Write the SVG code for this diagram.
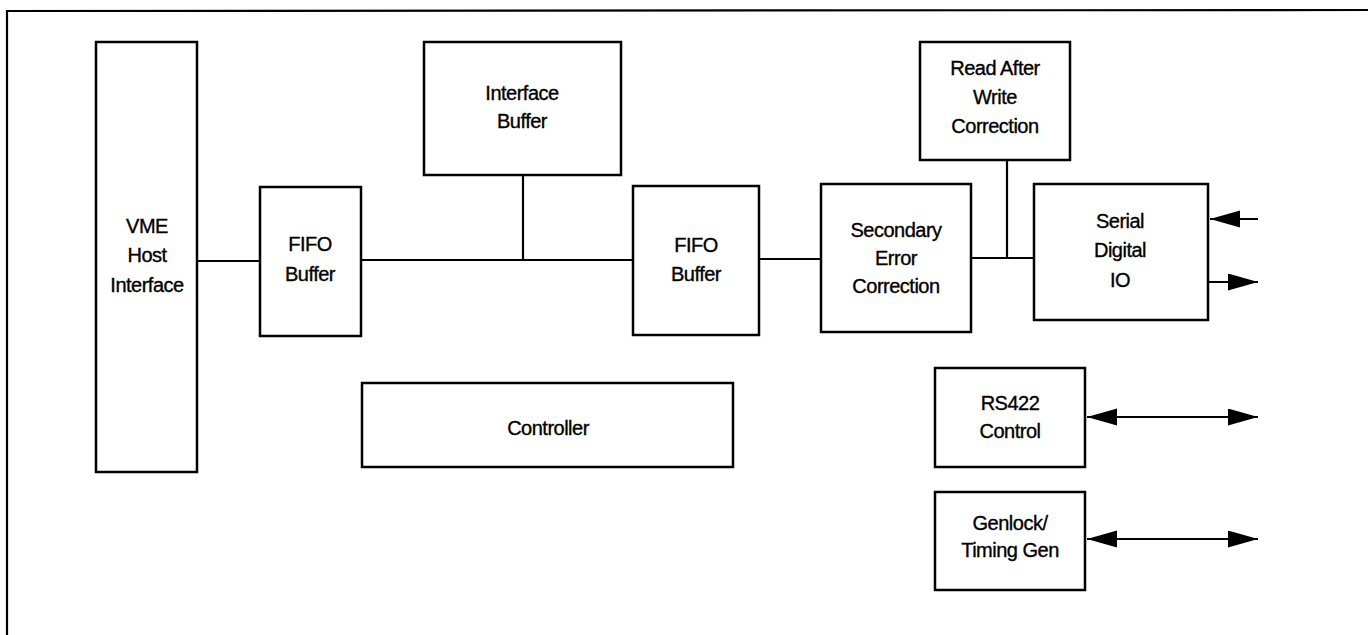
<svg xmlns="http://www.w3.org/2000/svg" width="1368" height="635" viewBox="0 0 1368 635">
<style>
.box{fill:#fff;stroke:#000;stroke-width:2.5}
.ln{fill:none;stroke:#000;stroke-width:2.2}
text{font-family:"Liberation Sans",Arial,sans-serif;font-size:20px;fill:#000;stroke:#000;stroke-width:0.35;text-anchor:middle;letter-spacing:-0.5px}
</style>
<defs>
<marker id="ah" markerUnits="userSpaceOnUse" markerWidth="32" markerHeight="18" refX="30" refY="8.5" orient="auto-start-reverse">
<path d="M0,0 L30,8.5 L0,17 z" fill="#000"/>
</marker>
</defs>
<rect x="0" y="0" width="1368" height="635" fill="#fff"/>
<path class="ln" d="M7,635 L7,11 L1368,10"/>
<g id="connectors">
<line class="ln" x1="197" y1="261" x2="260" y2="261"/>
<line class="ln" x1="361" y1="260" x2="633" y2="260"/>
<line class="ln" x1="523" y1="175" x2="523" y2="260"/>
<line class="ln" x1="759" y1="259" x2="821" y2="259"/>
<line class="ln" x1="971" y1="258" x2="1034" y2="258"/>
<line class="ln" x1="1007" y1="160" x2="1007" y2="258"/>
<line class="ln" x1="1258" y1="219" x2="1210" y2="219" marker-end="url(#ah)"/>
<line class="ln" x1="1208" y1="282" x2="1258" y2="282" marker-end="url(#ah)"/>
<line class="ln" x1="1087" y1="417" x2="1258" y2="417" marker-start="url(#ah)" marker-end="url(#ah)"/>
<line class="ln" x1="1087" y1="539" x2="1258" y2="539" marker-start="url(#ah)" marker-end="url(#ah)"/>
</g>
<g id="vme">
<rect class="box" x="96" y="42" width="101" height="430"/>
<text x="147" y="233">VME</text>
<text x="147" y="262">Host</text>
<text x="147" y="292">Interface</text>
</g>
<g id="fifo1">
<rect class="box" x="260" y="187" width="101" height="149"/>
<text x="310" y="251">FIFO</text>
<text x="310" y="281">Buffer</text>
</g>
<g id="ifbuf">
<rect class="box" x="424" y="42" width="197" height="133"/>
<text x="522" y="100">Interface</text>
<text x="522" y="128">Buffer</text>
</g>
<g id="fifo2">
<rect class="box" x="633" y="186" width="126" height="149"/>
<text x="696" y="252">FIFO</text>
<text x="696" y="281">Buffer</text>
</g>
<g id="sec">
<rect class="box" x="821" y="184" width="150" height="148"/>
<text x="896" y="237">Secondary</text>
<text x="896" y="265">Error</text>
<text x="896" y="293">Correction</text>
</g>
<g id="raw">
<rect class="box" x="920" y="42" width="150" height="118"/>
<text x="995" y="75">Read After</text>
<text x="995" y="104">Write</text>
<text x="995" y="133">Correction</text>
</g>
<g id="sdio">
<rect class="box" x="1034" y="184" width="174" height="136"/>
<text x="1120" y="228">Serial</text>
<text x="1120" y="257">Digital</text>
<text x="1120" y="287">IO</text>
</g>
<g id="controller">
<rect class="box" x="362" y="383" width="371" height="84"/>
<text x="548" y="435">Controller</text>
</g>
<g id="rs422">
<rect class="box" x="935" y="368" width="150" height="99"/>
<text x="1010" y="410">RS422</text>
<text x="1010" y="438">Control</text>
</g>
<g id="genlock">
<rect class="box" x="935" y="492" width="150" height="98"/>
<text x="1010" y="530">Genlock/</text>
<text x="1010" y="557">Timing Gen</text>
</g>
</svg>
